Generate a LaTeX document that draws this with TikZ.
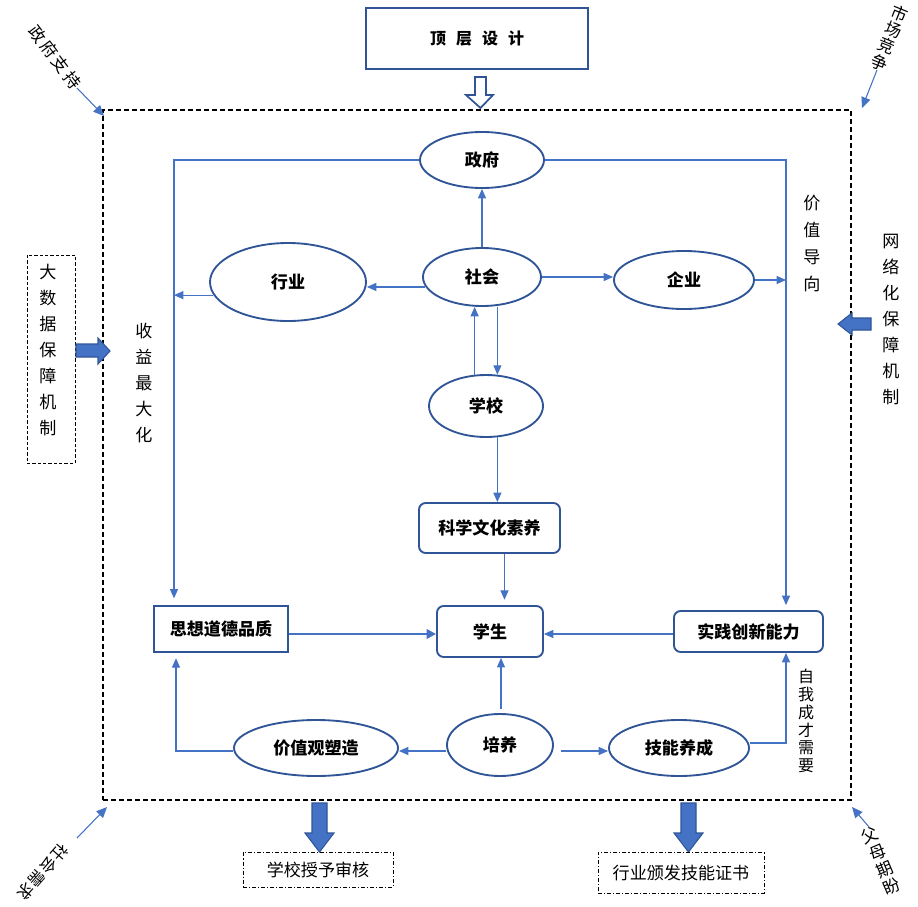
\documentclass[tikz,border=0pt]{standalone}
\usepackage{fontspec}
\setmainfont{Noto Sans CJK SC}
\usetikzlibrary{shapes.geometric,arrows.meta}
\definecolor{dk}{HTML}{2F5597}
\definecolor{lb}{HTML}{4472C4}
\begin{document}
\begin{tikzpicture}[x=0.75pt,y=-0.75pt,
  lbl/.style={font=\fontsize{12.8}{15}\selectfont\bfseries, text=black},
  ell/.style={ellipse, draw=dk, line width=1.4pt, inner sep=0pt, lbl},
  rbox/.style={rectangle, rounded corners=5pt, draw=dk, line width=1.4pt, inner sep=0pt, lbl},
  sbox/.style={rectangle, draw=dk, line width=1.4pt, inner sep=0pt, lbl},
  arr/.style={draw=lb, line width=0.8pt, -{Triangle[length=7pt,width=6pt]}},
  thickarr/.style={draw=lb, line width=2.2pt, -{Triangle[length=7pt,width=7pt]}},
  carr/.style={draw=lb, line width=0.8pt, -{Triangle[length=8pt,width=7pt]}},
  blk/.style={fill=lb, draw=dk, line width=0.8pt},
  vtxt/.style={align=center, inner sep=0pt},
  side/.style={font=\fontsize{12.8}{15}\selectfont},
  thinbox/.style={draw=black, line width=0.6pt, dash pattern=on 2.5pt off 1.5pt, inner sep=0pt},
  dashdotbox/.style={draw=black, line width=0.6pt, dash pattern=on 3pt off 1.5pt on 0.8pt off 1.5pt, inner sep=0pt},
]
\useasboundingbox (0,0) rectangle (918,907);

% top design box and hollow arrow
\node[sbox, minimum width=166.5pt, minimum height=45.75pt, font=\fontsize{12}{14}\selectfont\bfseries] (top) at (477,38.5) {顶\hspace{7.5pt}层\hspace{7.5pt}设\hspace{7.5pt}计};
\draw[draw=dk, fill=white, line width=1.3pt] (475,77) -- (486,77) -- (486,95) -- (493,95) -- (480.5,108) -- (466,95) -- (475,95) -- cycle;

% main frame
\node[draw=black, line width=1.6pt, dash pattern=on 4pt off 2pt, minimum width=561pt, minimum height=517.5pt, inner sep=0pt] (frame) at (477,455) {};

% nodes
\node[ell, minimum width=93pt, minimum height=42pt] (zf) at (482,160) {政府};
\node[ell, minimum width=88.5pt, minimum height=43.5pt] (sh) at (482,277) {社会};
\node[ell, minimum width=117pt, minimum height=58.5pt] (hy) at (288,282) {行业};
\node[ell, minimum width=105pt, minimum height=43.5pt] (qy) at (684,280) {企业};
\node[ell, minimum width=85.5pt, minimum height=46.5pt] (xx) at (486,406) {学校};
\node[rbox, minimum width=105.75pt, minimum height=37.5pt] (kx) at (489.5,528) {科学文化素养};
\node[rbox, minimum width=79.5pt, minimum height=38.25pt] (xs) at (490,631.5) {学生};
\node[sbox, minimum width=100.5pt, minimum height=34.5pt] (sx) at (221,629) {思想道德品质};
\node[rbox, minimum width=111.75pt, minimum height=30.75pt] (sj) at (748.5,631.5) {实践创新能力};
\node[ell, minimum width=123pt, minimum height=42pt] (jz) at (316,748) {价值观塑造};
\node[ell, minimum width=79.5pt, minimum height=46.5pt] (py) at (500,745) {培养};
\node[ell, minimum width=105pt, minimum height=42pt] (jn) at (679,748) {技能养成};

% helper coordinates
\coordinate (L) at (174,160);
\coordinate (R) at (786,160);
\coordinate (y634) at (0,634);
\coordinate (y751) at (0,751);
\coordinate (y743) at (0,743);
\coordinate (xL2) at (176,0);
\coordinate (x501) at (501,0);

% connectors
\draw[arr] (sh.north) -- (zf.south);
\draw[arr, shorten >=5pt] (zf.west) -- (L) -- (L |- sx.north);
\draw[arr] (zf.east) -- (R) -- (R |- sx.north);
\draw[arr] (sh.190) -- (sh.190 -| hy.east);
\draw[arr] (hy.190) -- (hy.190 -| L);
\draw[arr] (sh.east) -- (sh.east -| qy.west);
\draw[arr] (qy.east) -- (qy.east -| R);
\draw[arr] (xx.110) -- (xx.110 |- sh.south);
\draw[arr] (sh.south -| xx.70) -- (xx.70);
\draw[arr] (xx.290) -- (xx.290 |- kx.north);
\draw[arr, shorten >=4pt] ([xshift=11.25pt]kx.south) -- ([xshift=11.25pt]kx.south |- xs.north);
\draw[thickarr] (sx.east |- y634) -- (xs.west |- y634);
\draw[arr] (sj.west |- y634) -- (xs.east |- y634);
\draw[arr] ([yshift=3pt]x501 |- py.north) -- (x501 |- xs.south);
\draw[arr] (py.west |- y751) -- (jz.east |- y751);
\draw[arr, shorten >=4pt] (jz.west |- y751) -- (xL2 |- y751) -- (xL2 |- sx.south);
\draw[arr] ([xshift=5pt]py.east |- y751) -- (jn.west |- y751);
\draw[arr] (jn.east |- y743) -- (R |- y743) -- (R |- sj.south);

% vertical labels
\node[vtxt, side, font=\fontsize{12.8}{20.25}\selectfont] (jzdx) at (812,243) {价\\值\\导\\向};
\node[vtxt, side, font=\fontsize{12.8}{19.5}\selectfont] (sy) at (144,383) {收\\益\\最\\大\\化};
\node[vtxt, side, font=\fontsize{12}{13.4}\selectfont] (zw) at (806,721) {自\\我\\成\\才\\需\\要};

% left side box
\node[thinbox, minimum width=36pt, minimum height=156pt] (dsjbox) at (51,359) {};
\node[vtxt, side, font=\fontsize{12.8}{19.5}\selectfont] (dsj) at (48,350) {大\\数\\据\\保\\障\\机\\制};
\draw[blk] (76,344) -- (98,344) -- (98,338) -- (110,351) -- (98,364) -- (98,357) -- (76,357) -- cycle;

% right side text
\node[vtxt, side, font=\fontsize{12.8}{19.5}\selectfont] (wlh) at (891,320) {网\\络\\化\\保\\障\\机\\制};
\draw[blk] (871,318) -- (852,318) -- (852,313) -- (838,324) -- (852,335) -- (852,330) -- (871,330) -- cycle;

% bottom arrows and boxes
\draw[blk] (312,803) -- (327,803) -- (327,833) -- (334,833) -- (319.5,852) -- (305,833) -- (312,833) -- cycle;
\draw[blk] (681,803) -- (696,803) -- (696,833) -- (703,833) -- (688.5,852) -- (674,833) -- (681,833) -- cycle;
\node[dashdotbox, minimum width=112.5pt, minimum height=26.25pt, side] (xxsh) at (318,869.5) {学校授予审核};
\node[dashdotbox, minimum width=124.5pt, minimum height=30.75pt, side] (hyzs) at (681,872.5) {行业颁发技能证书};

% corner labels
\node[side, font=\fontsize{12.5}{15}\selectfont, rotate=-53] (zfzc) at (55,57) {政\hspace{2pt}府\hspace{2pt}支\hspace{2pt}持};
\node[vtxt, font=\fontsize{12.5}{13.2}\selectfont, rotate=-22] (scjz) at (890,38) {市\\场\\竞\\争};
\node[vtxt, font=\fontsize{12.5}{14}\selectfont, rotate=23] (fmqp) at (881,861) {父\\母\\期\\盼};
\node[side, font=\fontsize{12}{15}\selectfont, rotate=-131] (shxq) at (43,872) {社\hspace{1.2pt}会\hspace{1.2pt}需\hspace{1.2pt}求};

\coordinate (c1s) at (77,88);  \coordinate (c1e) at (104,116);
\coordinate (c2s) at (877,70); \coordinate (c2e) at (862,108);
\coordinate (c3s) at (77,838); \coordinate (c3e) at (107,807);
\coordinate (c4s) at (869,827); \coordinate (c4e) at (852,807);
\draw[carr] (c1s) -- (c1e);
\draw[carr] (c2s) -- (c2e);
\draw[carr] (c3s) -- (c3e);
\draw[carr] (c4s) -- (c4e);
\end{tikzpicture}
\end{document}
